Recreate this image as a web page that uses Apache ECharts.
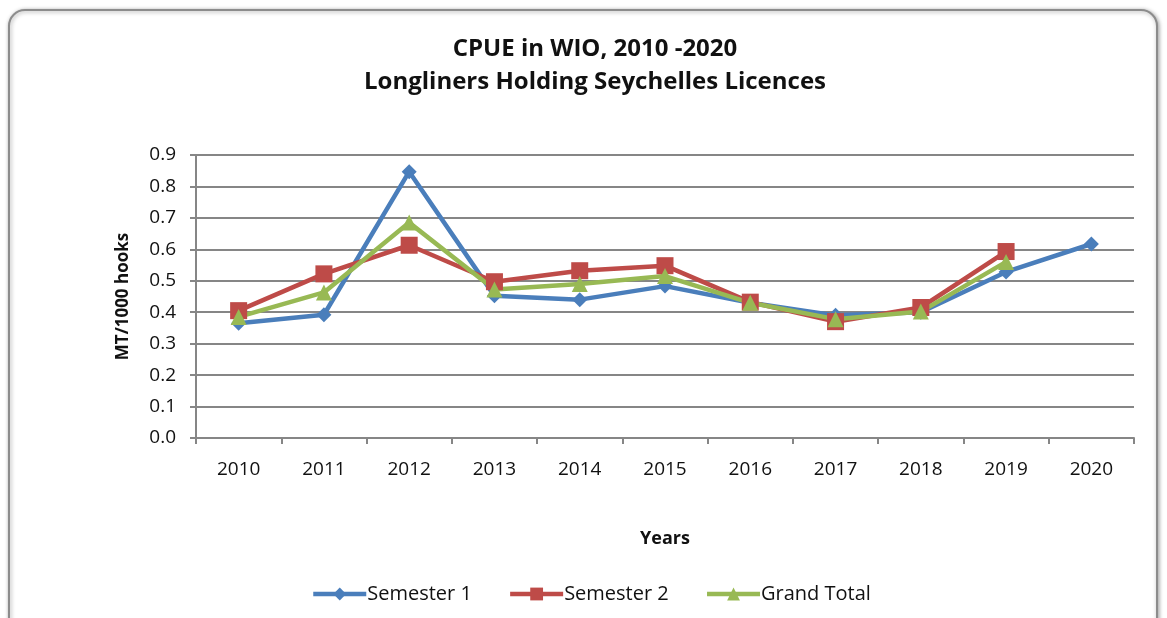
<!DOCTYPE html>
<html>
<head>
<meta charset="utf-8">
<script src="https://cdn.jsdelivr.net/npm/echarts@6/dist/echarts.min.js"></script>
<style>
  html, body { margin: 0; padding: 0; background: #fff; }
  #cpueChart { width: 1167px; height: 618px; }
</style>
</head>
<body>
<div id="cpueChart"></div>
<script>
const years = ["2010", "2011", "2012", "2013", "2014", "2015", "2016", "2017", "2018", "2019", "2020"];
const semester1 = [0.365, 0.392, 0.847, 0.452, 0.44, 0.483, 0.43, 0.39, 0.40, 0.528, 0.617];
const semester2 = [0.405, 0.522, 0.613, 0.497, 0.532, 0.548, 0.432, 0.37, 0.415, 0.593, null];
const grandTotal = [0.385, 0.463, 0.685, 0.472, 0.49, 0.515, 0.43, 0.378, 0.402, 0.56, null];
const yTicks = ["0.0", "0.1", "0.2", "0.3", "0.4", "0.5", "0.6", "0.7", "0.8", "0.9"];

const fontFam = "'Open Sans', 'Noto Sans', sans-serif";

let cpueChart = echarts.init(document.getElementById("cpueChart"));

function lineSeries(name, data, color, symbol, size) {
  return {
    name: name,
    type: "line",
    data: data,
    symbol: symbol,
    symbolSize: size,
    connectNulls: false,
    lineStyle: { color: color, width: 4.5 },
    itemStyle: { color: color },
    emphasis: { disabled: true }
  };
}

cpueChart.setOption({
  backgroundColor: "#fff",
  animation: false,
  graphic: [
    {
      type: "rect",
      shape: { x: 9, y: 10, width: 1148, height: 640, r: 16 },
      style: {
        fill: "#fff",
        stroke: "#8c8c8c",
        lineWidth: 2,
        shadowBlur: 4,
        shadowColor: "rgba(0,0,0,0.35)",
        shadowOffsetX: 1,
        shadowOffsetY: 1
      },
      z: -10
    }
  ],
  title: {
    text: "CPUE in WIO, 2010 -2020\nLongliners Holding Seychelles Licences",
    left: 590,
    top: 28,
    textAlign: "center",
    textStyle: {
      fontFamily: fontFam,
      fontSize: 24,
      fontWeight: "bold",
      color: "#111",
      lineHeight: 33
    }
  },
  legend: {
    data: ["Semester 1", "Semester 2", "Grand Total"],
    left: 306,
    top: 579,
    itemWidth: 53,
    itemHeight: 16,
    itemGap: 36,
    lineStyle: { width: 4.5 },
    textStyle: { fontFamily: fontFam, fontSize: 20, color: "#111", padding: [0, 0, 0, -4] }
  },
  grid: { left: 196, right: 33, top: 155, bottom: 180 },
  xAxis: {
    type: "category",
    data: years,
    boundaryGap: true,
    name: "Years",
    nameLocation: "middle",
    nameGap: 92,
    nameTextStyle: { fontFamily: fontFam, fontSize: 18, fontWeight: "bold", color: "#111" },
    axisLine: { lineStyle: { color: "#868686", width: 2 } },
    axisTick: { show: true, length: 6, lineStyle: { color: "#868686", width: 2 } },
    axisLabel: { fontFamily: fontFam, fontSize: 19, color: "#111", margin: 22 }
  },
  yAxis: {
    type: "value",
    min: 0,
    max: 0.9,
    interval: 0.1,
    name: "MT/1000 hooks",
    nameLocation: "middle",
    nameGap: 64,
    nameTextStyle: { fontFamily: fontFam, fontSize: 17, fontWeight: "bold", color: "#111" },
    axisLine: { show: true, lineStyle: { color: "#868686", width: 2 } },
    axisTick: { show: true, length: 6, lineStyle: { color: "#868686", width: 2 } },
    axisLabel: {
      fontFamily: fontFam,
      fontSize: 19,
      color: "#111",
      margin: 20,
      formatter: function (v) { return yTicks[Math.round(v * 10)]; }
    },
    splitLine: { show: true, lineStyle: { color: "#868686", width: 2 } }
  },
  series: [
    lineSeries("Semester 1", semester1, "#4a7ebb", "diamond", 15),
    lineSeries("Semester 2", semester2, "#be4b48", "rect", 17),
    lineSeries("Grand Total", grandTotal, "#98b954", "triangle", 16)
  ]
});

window.addEventListener("resize", () => {
  cpueChart.resize();
});
</script>
</body>
</html>
